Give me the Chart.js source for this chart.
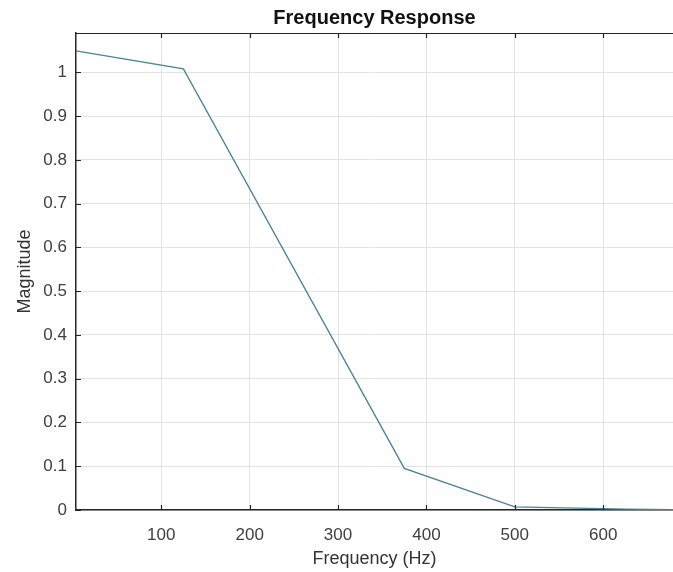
<!DOCTYPE html>
<html>
<head>
<meta charset="utf-8">
<script src="https://cdn.jsdelivr.net/npm/chart.js@4.4.0/dist/chart.umd.min.js"></script>
<style>
  html, body { margin: 0; padding: 0; background: #fff; }
  #wrap { width: 673px; height: 572px; }
</style>
</head>
<body>
<div id="wrap"><canvas id="freqChart" width="673" height="572"></canvas></div>
<script>
// --- Data ---
const freqHz = [3.5, 125, 375, 500, 625, 679];
const magnitude = [1.049, 1.008, 0.095, 0.007, 0.002, 0.001];
const xTicks = [100, 200, 300, 400, 500, 600];
const yTicks = [0, 0.1, 0.2, 0.3, 0.4, 0.5, 0.6, 0.7, 0.8, 0.9, 1];

const axisColor = '#262626';
const gridColor = '#e3e3e3';
const labelColor = '#404040';
const fontFamily = '"Liberation Sans", Arial, Helvetica, sans-serif';

// MATLAB-style box top edge and inward tick marks
const boxPlugin = {
    id: 'matlabBox',
    afterDraw(chart) {
        const { ctx, chartArea: a, scales } = chart;
        ctx.save();
        ctx.strokeStyle = axisColor;
        ctx.lineWidth = 1.2;
        ctx.beginPath();
        ctx.moveTo(a.left, a.top + 0.5);
        ctx.lineTo(a.right, a.top + 0.5);
        xTicks.forEach(v => {
            const px = Math.round(scales.x.getPixelForValue(v)) + 0.5;
            ctx.moveTo(px, a.bottom);
            ctx.lineTo(px, a.bottom - 5);
            ctx.moveTo(px, a.top);
            ctx.lineTo(px, a.top + 5);
        });
        yTicks.forEach(v => {
            const py = Math.round(scales.y.getPixelForValue(v)) + 0.5;
            ctx.moveTo(a.left, py);
            ctx.lineTo(a.left + 5, py);
        });
        ctx.stroke();
        ctx.restore();
    }
};

const points = freqHz.map((f, i) => ({ x: f, y: magnitude[i] }));

new Chart(document.getElementById('freqChart'), {
    type: 'line',
    data: {
        datasets: [{
            data: points,
            borderColor: '#4a8396',
            borderWidth: 1.3,
            pointRadius: 0,
            tension: 0,
            fill: false
        }]
    },
    options: {
        responsive: false,
        animation: false,
        layout: { padding: 0 },
        plugins: {
            legend: { display: false },
            tooltip: { enabled: false },
            title: {
                display: true,
                text: 'Frequency Response',
                fullSize: false,
                color: '#111',
                font: { family: fontFamily, size: 20, weight: 'bold', lineHeight: 1.2 },
                padding: { top: 6.5, bottom: 2.5 }
            }
        },
        scales: {
            x: {
                type: 'linear',
                min: 3.5,
                max: 679,
                afterBuildTicks: s => { s.ticks = xTicks.map(v => ({ value: v })); },
                afterFit: s => { s.height = 62; },
                grid: { color: gridColor, drawTicks: false },
                border: { color: axisColor, width: 1.5 },
                ticks: {
                    color: labelColor,
                    padding: 15,
                    maxRotation: 0,
                    font: { family: fontFamily, size: 17 }
                },
                title: {
                    display: true,
                    text: 'Frequency (Hz)',
                    color: '#333',
                    padding: { top: 0, bottom: 2 },
                    font: { family: fontFamily, size: 18 }
                }
            },
            y: {
                type: 'linear',
                min: 0,
                max: 1.09,
                afterBuildTicks: s => { s.ticks = yTicks.map(v => ({ value: v })); },
                afterFit: s => { s.width = 76; },
                grid: { color: gridColor, drawTicks: false },
                border: { color: axisColor, width: 1.5 },
                ticks: {
                    color: labelColor,
                    padding: 9,
                    font: { family: fontFamily, size: 17 },
                    callback: v => String(Math.round(v * 10) / 10)
                },
                title: {
                    display: true,
                    text: 'Magnitude',
                    color: '#333',
                    padding: { top: 14, bottom: 0 },
                    font: { family: fontFamily, size: 18 }
                }
            }
        }
    },
    plugins: [boxPlugin]
});
</script>
</body>
</html>
